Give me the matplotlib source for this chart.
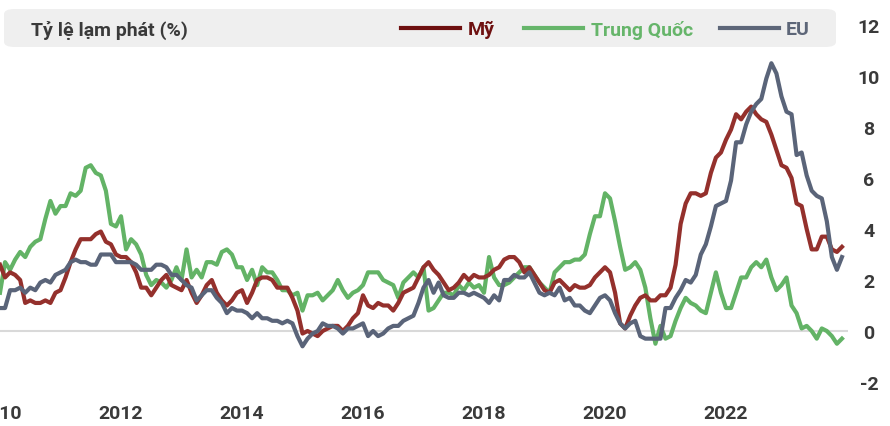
import matplotlib.pyplot as plt
import numpy as np
from matplotlib.patches import FancyBboxPatch
from matplotlib.lines import Line2D

# monthly YoY inflation, Jan 2010 - Dec 2023
us = [2.6, 2.1, 2.3, 2.2, 2.0, 1.1, 1.2, 1.1, 1.1, 1.2, 1.1, 1.5,
      1.6, 2.1, 2.7, 3.2, 3.6, 3.6, 3.6, 3.8, 3.9, 3.5, 3.4, 3.0,
      2.9, 2.9, 2.7, 2.3, 1.7, 1.7, 1.4, 1.7, 2.0, 2.2, 1.8, 1.7,
      1.6, 2.0, 1.5, 1.1, 1.4, 1.8, 2.0, 1.5, 1.2, 1.0, 1.2, 1.5,
      1.6, 1.1, 1.5, 2.0, 2.1, 2.1, 2.0, 1.7, 1.7, 1.7, 1.3, 0.8,
      -0.1, 0.0, -0.1, -0.2, 0.0, 0.1, 0.2, 0.2, 0.0, 0.2, 0.5, 0.7,
      1.4, 1.0, 0.9, 1.1, 1.0, 1.0, 0.8, 1.1, 1.5, 1.6, 1.7, 2.1,
      2.5, 2.7, 2.4, 2.2, 1.9, 1.6, 1.7, 1.9, 2.2, 2.0, 2.2, 2.1,
      2.1, 2.2, 2.4, 2.5, 2.8, 2.9, 2.9, 2.7, 2.3, 2.5, 2.2, 1.9,
      1.6, 1.5, 1.9, 2.0, 1.8, 1.6, 1.8, 1.7, 1.7, 1.8, 2.1, 2.3,
      2.5, 2.3, 1.5, 0.3, 0.1, 0.6, 1.0, 1.3, 1.4, 1.2, 1.2, 1.4,
      1.4, 1.7, 2.6, 4.2, 5.0, 5.4, 5.4, 5.3, 5.4, 6.2, 6.8, 7.0,
      7.5, 7.9, 8.5, 8.3, 8.6, 8.8, 8.5, 8.3, 8.2, 7.7, 7.1, 6.5,
      6.4, 6.0, 5.0, 4.9, 4.0, 3.2, 3.2, 3.7, 3.7, 3.2, 3.1, 3.3]

china = [1.5, 2.7, 2.4, 2.8, 3.1, 2.9, 3.3, 3.5, 3.6, 4.4, 5.1, 4.6,
         4.9, 4.9, 5.4, 5.3, 5.5, 6.4, 6.5, 6.2, 6.1, 5.5, 4.2, 4.1,
         4.5, 3.2, 3.6, 3.4, 3.0, 2.2, 1.8, 2.0, 1.9, 1.7, 2.0, 2.5,
         2.0, 3.2, 2.1, 2.4, 2.1, 2.7, 2.7, 2.6, 3.1, 3.2, 3.0, 2.5,
         2.5, 2.0, 2.4, 1.8, 2.5, 2.3, 2.3, 2.0, 1.6, 1.6, 1.4, 1.5,
         0.8, 1.4, 1.4, 1.5, 1.2, 1.4, 1.6, 2.0, 1.6, 1.3, 1.5, 1.6,
         1.8, 2.3, 2.3, 2.3, 2.0, 1.9, 1.8, 1.3, 1.9, 2.1, 2.3, 2.1,
         2.5, 0.8, 0.9, 1.2, 1.5, 1.5, 1.4, 1.8, 1.6, 1.9, 1.7, 1.8,
         1.5, 2.9, 2.1, 1.8, 1.8, 1.9, 2.1, 2.3, 2.5, 2.5, 2.2, 1.9,
         1.7, 1.5, 2.3, 2.5, 2.7, 2.7, 2.8, 2.8, 3.0, 3.8, 4.5, 4.5,
         5.4, 5.2, 4.3, 3.3, 2.4, 2.5, 2.7, 2.4, 1.7, 0.5, -0.5, 0.2,
         -0.3, -0.2, 0.4, 0.9, 1.3, 1.1, 1.0, 0.8, 0.7, 1.5, 2.3, 1.5,
         0.9, 0.9, 1.5, 2.1, 2.1, 2.5, 2.7, 2.5, 2.8, 2.1, 1.6, 1.8,
         2.1, 1.0, 0.7, 0.1, 0.2, 0.0, -0.3, 0.1, 0.0, -0.2, -0.5, -0.3]

eu = [0.9, 0.9, 1.6, 1.6, 1.7, 1.5, 1.7, 1.6, 1.9, 2.0, 1.9, 2.2,
      2.3, 2.4, 2.7, 2.8, 2.7, 2.7, 2.6, 2.6, 3.0, 3.0, 3.0, 2.7,
      2.7, 2.7, 2.7, 2.6, 2.4, 2.4, 2.4, 2.6, 2.6, 2.5, 2.2, 2.2,
      2.0, 1.8, 1.7, 1.2, 1.4, 1.6, 1.6, 1.3, 1.1, 0.7, 0.9, 0.8,
      0.8, 0.7, 0.5, 0.7, 0.5, 0.5, 0.4, 0.4, 0.3, 0.4, 0.3, -0.2,
      -0.6, -0.3, -0.1, 0.0, 0.3, 0.2, 0.2, 0.1, -0.1, 0.1, 0.1, 0.2,
      0.3, -0.2, 0.0, -0.2, -0.1, 0.1, 0.2, 0.2, 0.4, 0.5, 0.6, 1.1,
      1.7, 2.0, 1.5, 1.9, 1.4, 1.3, 1.3, 1.5, 1.5, 1.4, 1.5, 1.4,
      1.3, 1.1, 1.4, 1.2, 2.0, 2.0, 2.2, 2.1, 2.1, 2.3, 1.9, 1.5,
      1.4, 1.5, 1.4, 1.7, 1.2, 1.3, 1.0, 1.0, 0.8, 0.7, 1.0, 1.3,
      1.4, 1.2, 0.7, 0.3, 0.1, 0.3, 0.4, -0.2, -0.3, -0.3, -0.3, -0.3,
      0.9, 0.9, 1.3, 1.6, 2.0, 1.9, 2.2, 3.0, 3.4, 4.1, 4.9, 5.0,
      5.1, 5.9, 7.4, 7.4, 8.1, 8.6, 8.9, 9.1, 9.9, 10.5, 10.1, 9.2,
      8.6, 8.5, 6.9, 7.0, 6.1, 5.5, 5.3, 5.2, 4.3, 2.9, 2.4, 2.9]

years = [2010, 2012, 2014, 2016, 2018, 2020, 2022]
yticks = [-2, 0, 2, 4, 6, 8, 10, 12]
labels = ['Mỹ', 'Trung Quốc', 'EU']
colors = ['#94302c', '#63b366', '#5a6479']
legend_colors = ['#6e1010', '#66b56a', '#5d6678']

plt.rcParams['font.family'] = ['Roboto', 'DejaVu Sans']

x = 2010 + np.arange(len(us)) / 12.0

fig = plt.figure(figsize=(8.9, 4.27), dpi=100)
ax = fig.add_axes([0.0, 44 / 427, 848 / 890, 357 / 427])

# grey title/legend box behind the plot
box = FancyBboxPatch((4 / 890, 379 / 427), 832 / 890, 38 / 427,
                     boxstyle='round,pad=0,rounding_size=0.012',
                     transform=fig.transFigure, facecolor='#efefef',
                     edgecolor='none', zorder=0)
fig.patches.append(box)

ax.axhline(0, color='#d9d9d9', lw=1.5, zorder=1)
ax.plot(x, china, color=colors[1], lw=3, solid_joinstyle='round', zorder=2)
ax.plot(x, us, color=colors[0], lw=3, solid_joinstyle='round', zorder=3)
ax.plot(x, eu, color=colors[2], lw=3, solid_joinstyle='round', zorder=4)

ax.set_xlim(2010.0, 2010 + 848 / 60.5)
ax.set_ylim(-2, 12)
ax.patch.set_alpha(0)
for s in ax.spines.values():
    s.set_visible(False)

ax.set_xticks(years)
ax.set_xticklabels([str(y) for y in years], fontsize=14, fontweight='bold',
                   color='#3a3a3a')
ax.tick_params(axis='x', length=0, pad=15.5)
ax.yaxis.tick_right()
ax.set_yticks(yticks)
ax.set_yticklabels([str(v) for v in yticks], fontsize=14, fontweight='bold',
                   color='#3a3a3a')
ax.tick_params(axis='y', length=0, pad=15)
for t in ax.get_yticklabels():
    t.set_horizontalalignment('center')

fig.text(31 / 890, 397 / 427, 'Tỷ lệ lạm phát (%)', fontsize=14,
         fontweight='bold', color='#3a3a3a', va='center', ha='left')

ypos = 398 / 427
line_spans = [(401, 460), (524, 583), (720, 779)]
text_x = [468, 591, 786]
for (a, b), tx, lab, c, lc in zip(line_spans, text_x, labels, colors, legend_colors):
    fig.add_artist(Line2D([a / 890, b / 890], [ypos, ypos], color=lc, lw=3,
                          transform=fig.transFigure))
    fig.text(tx / 890, 397 / 427, lab, fontsize=14, fontweight='bold', color=lc,
             va='center', ha='left')

fig.savefig('out.png', dpi=100)
